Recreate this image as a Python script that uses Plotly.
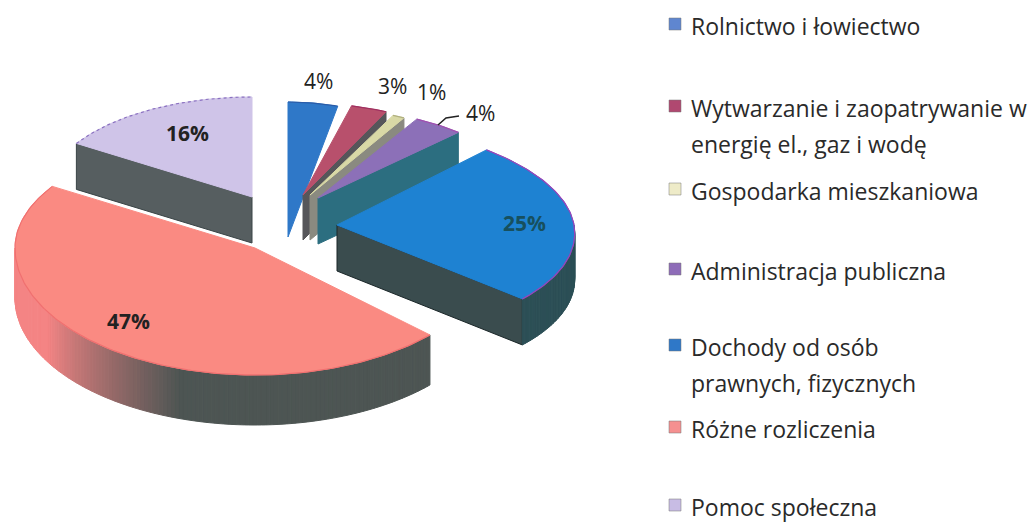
import math
import plotly.graph_objects as go

# ---- data ----
categories = ["Rolnictwo i łowiectwo",
              "Wytwarzanie i zaopatrywanie w\nenergię el., gaz i wodę",
              "Gospodarka mieszkaniowa",
              "Administracja publiczna",
              "Dochody od osób\nprawnych, fizycznych",
              "Różne rozliczenia",
              "Pomoc społeczna"]
values = [4, 3, 1, 4, 25, 47, 16]

# ---- style ----
top_colors = ["#2F78C8", "#B8506C", "#D9D9A6", "#8C70B8", "#1E82D2", "#FA8A82", "#CFC4E8"]
rim_line_colors = ["#2A5CA8", "#A03060", "#B0B080", "#A050B0", "#A040B8", "#F07070", "#8A70C0"]
rim_line_dash = ["solid", "solid", "solid", "solid", "solid", "solid", "dot"]
wall_colors = ["#2F78C8", "#56565A", "#8A8A80", "#2C6E80", "#3A4C4E", "#4D5553", "#565E60"]
rim_wall_colors = ["#2F78C8", "#56565A", "#8A8A80", "#2C6E80", "#2C4F56", "#4D5553", "#565E60"]
wall_line_colors = [None, None, None, None, "#1A2628", None, "#3A4446"]
legend_colors = ["#5F86D0", "#B04870", "#EEEBC8", "#8E6CB8", "#2F78C8", "#F59090", "#C8BCE4"]

# ---- projection of each exploded slice (pixel layout) ----
apex_x = [288, 303, 310, 318, 337, 255, 252]
apex_y = [237, 195, 195, 198, 225, 248, 197]
radius_x = [200, 195, 195, 205, 237, 240, 208]
radius_back = [135, 92, 88, 90, 103, 115, 100]
radius_front = [135, 92, 88, 90, 108, 127, 100]
depth = [0, 45, 45, 46, 46, 50, 46]
shear = [0, 0, 0, 0, 0.17, 0, 0]

legend_y = [26, 108, 191, 271, 347, 429, 507]
legend_marker_x = 675
legend_marker_dy = -2
legend_text_x = 689
legend_line_gap = 36
legend_font = "'Open Sans', Lato, sans-serif"
legend_size = 23

labels = ["4%", "3%", "1%", "4%", "25%", "47%", "16%"]
label_x = [318, 392, 431, 480, 524, 128, 187]
label_y = [81, 86, 92, 113, 223, 321, 133]
label_colors = ["#222", "#222", "#222", "#222", "#17505E", "#222", "#222"]
label_bold = [False, False, False, False, True, True, True]


def project(i, deg, drop=0.0):
    a = math.radians(deg)
    s, c = math.sin(a), -math.cos(a)
    ry = radius_back[i] if c < 0 else radius_front[i]
    dy = ry * c
    return apex_x[i] + radius_x[i] * s + shear[i] * dy, apex_y[i] + dy + drop


def hex_mix(c1, c2, t):
    p = [int(c1[k:k + 2], 16) for k in (1, 3, 5)]
    q = [int(c2[k:k + 2], 16) for k in (1, 3, 5)]
    return "#%02X%02X%02X" % tuple(round(u + (v - u) * t) for u, v in zip(p, q))


fig = go.Figure()


def poly(xs, ys, fill, line=None, width=1):
    fig.add_trace(go.Scatter(x=xs + xs[:1], y=ys + ys[:1], mode="lines", fill="toself",
                             fillcolor=fill, line=dict(color=line or fill, width=width),
                             hoverinfo="skip", showlegend=False))


total = sum(values)
edges = [0.0]
for v in values:
    edges.append(edges[-1] + 360.0 * v / total)

for i, v in enumerate(values):
    a0, a1 = edges[i], edges[i + 1]
    d = depth[i]
    ax, ay = apex_x[i], apex_y[i]
    # radial wall facing the viewer
    if d and (a1 < 180 or a0 > 180):
        ang = a1 if a1 < 180 else a0
        ex, ey = project(i, ang)
        poly([ax, ex, ex, ax], [ay, ey, ey + d, ay + d], wall_colors[i], wall_line_colors[i])
    # rim wall (only the arc turned to the viewer), painted in narrow strips
    lo, hi = max(a0, 90.0), min(a1, 270.0)
    if d and hi > lo:
        n = max(2, int(hi - lo))
        for k in range(n):
            t0 = lo + (hi - lo) * k / n
            t1 = lo + (hi - lo) * (k + 1) / n
            p0, p1 = project(i, t0), project(i, t1)
            col = rim_wall_colors[i]
            if i == 5:   # pink fading in on the far left of the big slice
                tm = (t0 + t1) / 2
                u = min(1.0, max(0.0, (tm - 198.0) / 42.0))
                col = hex_mix("#4D5553", "#F48484", u)
            poly([p0[0], p1[0], p1[0], p0[0]], [p0[1], p1[1], p1[1] + d, p0[1] + d], col)
    # top surface
    n = max(6, int(a1 - a0))
    pts = [project(i, a0 + (a1 - a0) * k / n) for k in range(n + 1)]
    poly([ax] + [p[0] for p in pts], [ay] + [p[1] for p in pts], top_colors[i])
    fig.add_trace(go.Scatter(x=[p[0] for p in pts], y=[p[1] for p in pts], mode="lines",
                             line=dict(color=rim_line_colors[i], width=1.2, dash=rim_line_dash[i]),
                             hoverinfo="skip", showlegend=False))

# legend
for i, name in enumerate(categories):
    fig.add_trace(go.Scatter(x=[legend_marker_x], y=[legend_y[i] + legend_marker_dy], mode="markers",
                             marker=dict(symbol="square", size=12, color=legend_colors[i],
                                         line=dict(color="#777", width=0.5)),
                             hoverinfo="skip", showlegend=False))
    for j, line in enumerate(name.split("\n")):
        fig.add_annotation(x=legend_text_x, y=legend_y[i] + j * legend_line_gap, text=line,
                           xanchor="left", yanchor="middle", showarrow=False,
                           font=dict(family=legend_font, size=legend_size, color="#2A2A2A"))

# percent labels
for i, t in enumerate(labels):
    fig.add_annotation(x=label_x[i], y=label_y[i], text=f"<b>{t}</b>" if label_bold[i] else t,
                       showarrow=False, xanchor="center", yanchor="middle",
                       font=dict(family="'Open Sans', Arial, sans-serif", size=21, color=label_colors[i]))

# leader line of the 4% label
fig.add_shape(type="path", path="M 459 116 L 446 118 L 438 125", line=dict(color="#222", width=1.5))

fig.update_xaxes(range=[0, 1035], visible=False, fixedrange=True)
fig.update_yaxes(range=[524, 0], visible=False, fixedrange=True)
fig.update_layout(width=1035, height=524, margin=dict(l=0, r=0, t=0, b=0),
                  paper_bgcolor="white", plot_bgcolor="white", showlegend=False)
fig.write_html("out.html", config={"displayModeBar": False},
               post_script="document.body.style.margin='0';document.body.style.overflow='hidden';")
